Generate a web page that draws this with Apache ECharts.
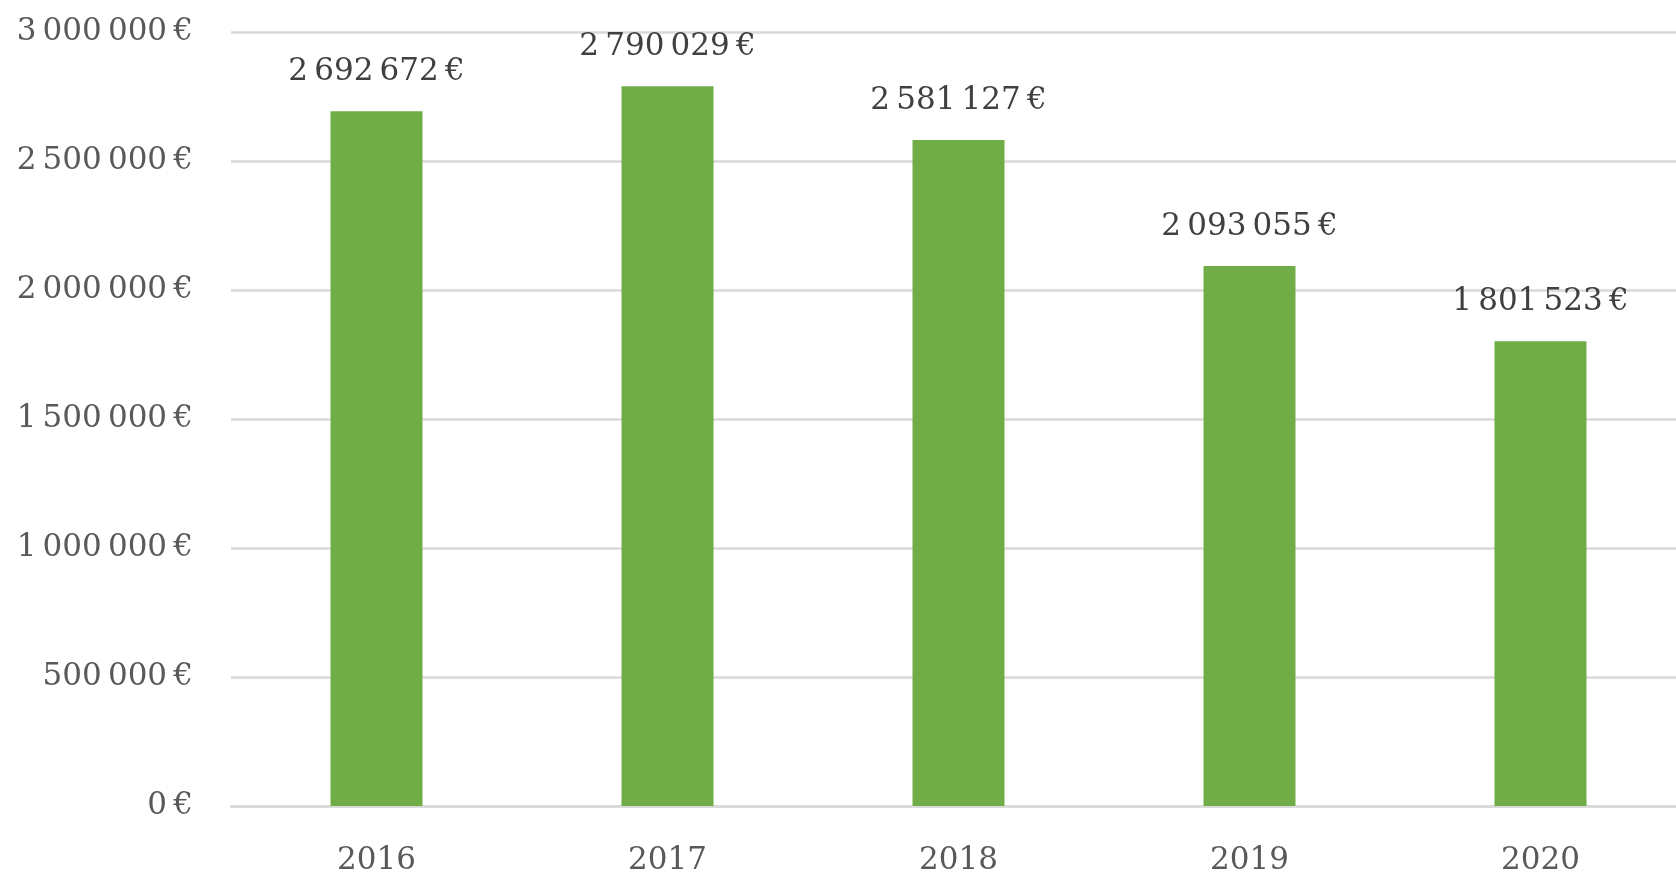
<!DOCTYPE html>
<html>
<head>
<meta charset="utf-8">
<script src="https://cdn.jsdelivr.net/npm/echarts@6/dist/echarts.min.js"></script>
<style>
  html, body { margin: 0; padding: 0; background: #fff; overflow: hidden; }
  /* a bit wider than the window: the gridlines run off the right edge */
  #chart { width: 1700px; height: 876px; }
</style>
</head>
<body>
<div id="chart"></div>
<script>
  var years = ['2016', '2017', '2018', '2019', '2020'];
  var amounts = [2692672, 2790029, 2581127, 2093055, 1801523];

  // 2 692 672 € style, narrow spaces
  function euro(v) {
    var s = String(Math.round(v)).replace(/\B(?=(\d{3})+(?!\d))/g, '\u2009');
    return s + '\u2009€';
  }

  var font = 'DejaVu Serif';
  var grey = '#595959';

  var chart = echarts.init(document.getElementById('chart'));
  chart.setOption({
    animation: false,
    grid: { left: 231, top: 32, width: 1455, height: 774, containLabel: false },
    xAxis: {
      type: 'category',
      data: years,
      axisLine: { show: true, lineStyle: { color: '#d9d9d9', width: 2.5 } },
      axisTick: { show: false },
      axisLabel: { color: grey, fontFamily: font, fontSize: 31, margin: 39 }
    },
    yAxis: {
      type: 'value',
      min: 0,
      max: 3000000,
      interval: 500000,
      axisLine: { show: false },
      axisTick: { show: false },
      splitLine: { lineStyle: { color: '#d9d9d9', width: 2.5 } },
      axisLabel: {
        color: grey, fontFamily: font, fontSize: 31, margin: 38,
        formatter: euro
      }
    },
    series: [{
      type: 'bar',
      data: amounts,
      barWidth: 92,
      itemStyle: { color: '#70ad47' },
      label: {
        show: true,
        position: 'top',
        distance: 24,
        color: '#404040',
        fontFamily: font,
        fontSize: 31,
        formatter: function (p) { return euro(p.value); }
      }
    }]
  });
</script>
</body>
</html>
